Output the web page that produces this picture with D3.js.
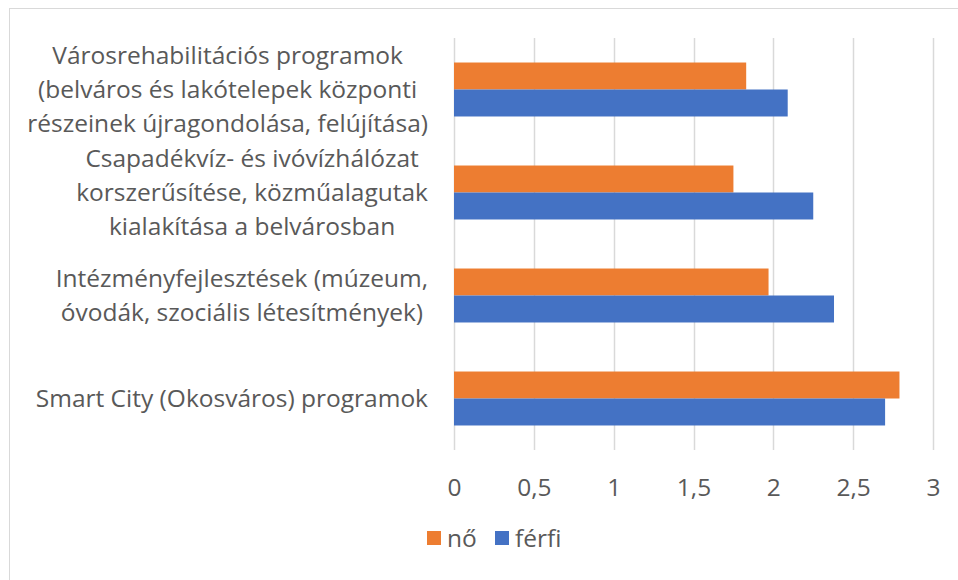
<!DOCTYPE html>
<html>
<head>
<meta charset="utf-8">
<script src="https://cdn.jsdelivr.net/npm/d3@7"></script>
<style>
  html, body { margin: 0; padding: 0; background: #fff; }
  svg { display: block; }
  text { font-family: "Open Sans", "Noto Sans", sans-serif; fill: #595959; font-variant-ligatures: none; }
</style>
</head>
<body>
<svg id="chart" width="958" height="580"></svg>
<script>
// Categories, top to bottom; each entry holds the wrapped label lines
const categories = [
  ["Városrehabilitációs programok", "(belváros és lakótelepek központi", "részeinek újragondolása, felújítása)"],
  ["Csapadékvíz- és ivóvízhálózat", "korszerűsítése, közműalagutak", "kialakítása a belvárosban"],
  ["Intézményfejlesztések (múzeum,", "óvodák, szociális létesítmények)"],
  ["Smart City (Okosváros) programok"]
];
const seriesNames = ["nő", "férfi"];
const noValues = [1.83, 1.75, 1.97, 2.79];
const ferfiValues = [2.09, 2.25, 2.38, 2.70];
const xTicks = [0, 0.5, 1, 1.5, 2, 2.5, 3];
const colors = ["#ED7D31", "#4472C4"];

const svg = d3.select("#chart");
const W = 958, H = 580;
const fontSize = 24.5;

// chart area frame
svg.append("rect")
  .attr("x", 9.5).attr("y", 8.5)
  .attr("width", W + 10).attr("height", H + 10)
  .attr("fill", "#fff").attr("stroke", "#d9d9d9").attr("stroke-width", 1);

const plot = { left: 454, right: 933, top: 38, bottom: 450 };

const x = d3.scaleLinear().domain([0, 3]).range([plot.left, plot.right]);
const y = d3.scaleBand()
  .domain(d3.range(categories.length))
  .range([plot.top, plot.bottom])
  .paddingInner(0.476)
  .paddingOuter(0.238);
const sub = d3.scaleBand().domain(seriesNames).range([0, y.bandwidth()]);

// vertical gridlines
svg.append("g")
  .selectAll("line")
  .data(xTicks)
  .join("line")
  .attr("x1", d => Math.round(x(d)) + 0.5)
  .attr("x2", d => Math.round(x(d)) + 0.5)
  .attr("y1", plot.top)
  .attr("y2", plot.bottom)
  .attr("stroke", "#d9d9d9")
  .attr("stroke-width", 1.5);

// bars
const data = categories.map((c, i) => ({ i, values: [noValues[i], ferfiValues[i]] }));
const groups = svg.append("g")
  .selectAll("g")
  .data(data)
  .join("g")
  .attr("transform", d => `translate(0,${y(d.i)})`);

groups.selectAll("rect")
  .data(d => d.values.map((v, k) => ({ v, k })))
  .join("rect")
  .attr("x", x(0))
  .attr("y", d => sub(seriesNames[d.k]))
  .attr("width", d => x(d.v) - x(0))
  .attr("height", sub.bandwidth())
  .attr("fill", d => colors[d.k]);

// x axis tick labels
const xAxis = d3.axisBottom(x)
  .tickValues(xTicks)
  .tickSize(0)
  .tickPadding(0)
  .tickFormat(d => String(d).replace(".", ","));
const gx = svg.append("g")
  .attr("transform", `translate(0,${plot.bottom + 37})`)
  .call(xAxis);
gx.select(".domain").remove();
gx.selectAll("text")
  .attr("font-size", fontSize)
  .attr("font-family", null)
  .attr("fill", "#595959")
  .attr("dy", "0.35em");

// category labels, lines centred within a block aligned to the plot's left edge
const lineH = 34;
const labelRight = 428;
categories.forEach((lines, i) => {
  const g = svg.append("g");
  const cy = y(i) + y.bandwidth() / 2;
  const texts = lines.map((ln, j) =>
    g.append("text")
      .attr("font-size", fontSize)
      .attr("text-anchor", "middle")
      .attr("y", cy + (j - (lines.length - 1) / 2) * lineH)
      .attr("dy", "0.35em")
      .text(ln));
  const maxW = d3.max(texts, t => t.node().getComputedTextLength());
  texts.forEach(t => t.attr("x", labelRight - maxW / 2));
});

// legend
const legend = svg.append("g").attr("transform", "translate(427,531)");
const legendOffsets = [0, 68];
seriesNames.forEach((name, k) => {
  const lg = legend.append("g").attr("transform", `translate(${legendOffsets[k]},0)`);
  lg.append("rect").attr("width", 14).attr("height", 14).attr("fill", colors[k]);
  lg.append("text").attr("x", 20).attr("y", 7).attr("dy", "0.35em")
    .attr("font-size", fontSize).text(name);
});
</script>
</body>
</html>
